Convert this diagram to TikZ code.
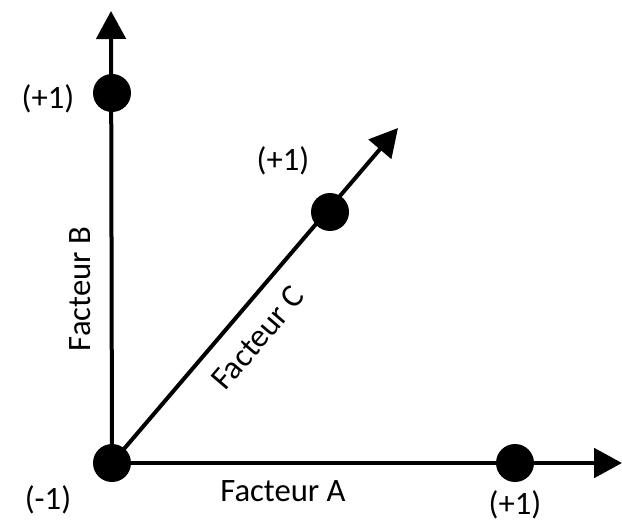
\documentclass[tikz,border=0pt]{standalone}
\usepackage{fontspec}
\setmainfont{Carlito}
\usetikzlibrary{arrows.meta,positioning}
\begin{document}
\begin{tikzpicture}[x=0.75pt,y=-0.75pt,
  dot/.style={circle,fill=black,inner sep=0pt,minimum size=28.5pt},
  axis/.style={line width=3pt,-{Triangle[length=21pt,width=22pt]}},
  lbl/.style={font=\fontsize{24.5}{28}\selectfont,inner sep=0pt}]
  \useasboundingbox (0,0) rectangle (622,524);
  % points and axis ends
  \node[dot] (O) at (112,463) {};
  \node[dot] (a) at (515,463) {};
  \node[dot] (b) at (112,93) {};
  \node[dot] (c) at (330,212) {};
  \coordinate (aend) at (622,463);
  \coordinate (bend) at (111,11);
  \coordinate (cend) at (398,128);
  % axes
  \draw[axis] (O.center) -- (aend);
  \draw[axis] (O.center) -- (bend);
  \draw[axis] (O.center) -- (cend);
  % labels
  \node[lbl] (lb) at (48,99) {(+1)};
  \node[lbl] (lc) at (283,161) {(+1)};
  \node[lbl] (lO) at (48,500) {(-1)};
  \node[lbl] (la) at (515,505) {(+1)};
  \node[lbl] (fa) at (283,491) {Facteur A};
  \node[lbl,rotate=90] (fb) at (80,289) {Facteur B};
  \node[lbl,rotate=49.5] (fc) at (258,338) {Facteur C};
\end{tikzpicture}
\end{document}
